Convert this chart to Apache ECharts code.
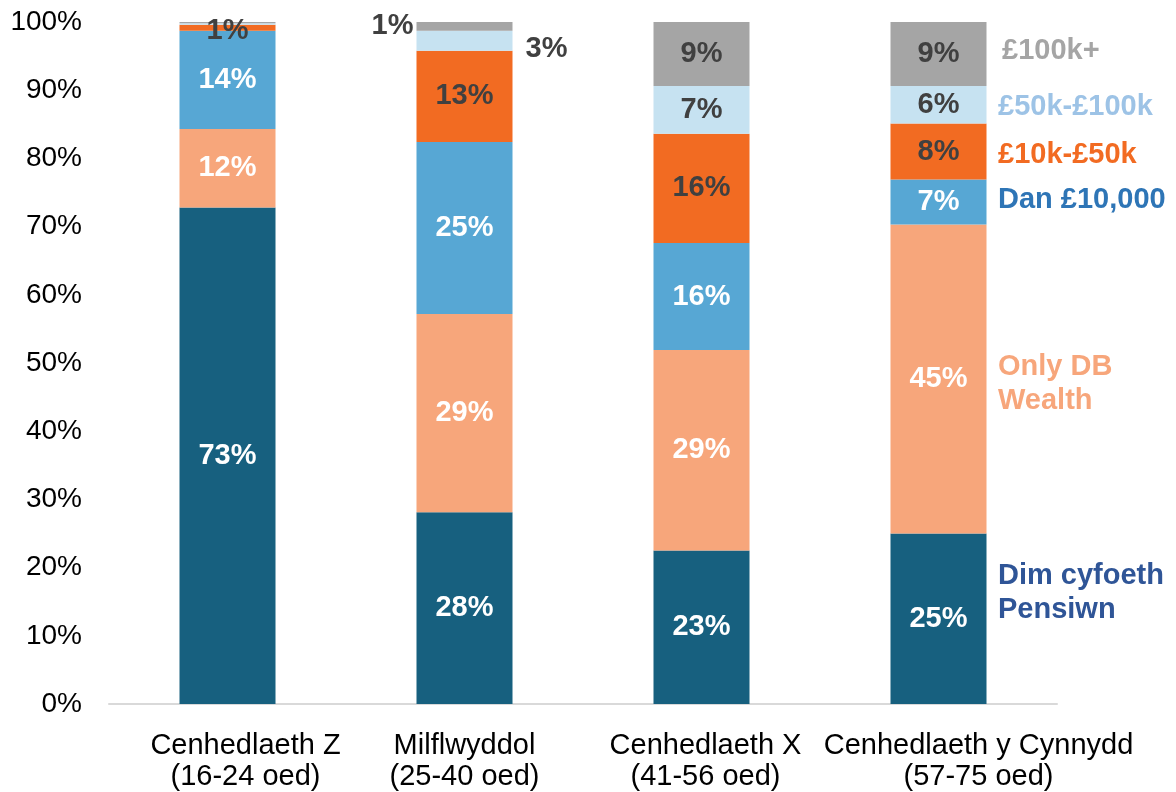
<!DOCTYPE html>
<html>
<head>
<meta charset="utf-8">
<script src="https://cdn.jsdelivr.net/npm/echarts@6/dist/echarts.min.js"></script>
<style>
  html, body { margin: 0; padding: 0; background: #fff; }
  #main { width: 1176px; height: 792px; }
</style>
</head>
<body>
<div id="main"></div>
<script>
// categories (x axis)
var categories = [
  'Cenhedlaeth Z\n(16-24 oed)',
  'Milflwyddol\n(25-40 oed)',
  'Cenhedlaeth X\n(41-56 oed)',
  'Cenhedlaeth y Cynnydd\n(57-75 oed)'
];

// series names, bottom to top
var seriesNames = ['Dim cyfoeth\nPensiwn', 'Only DB\nWealth', 'Dan £10,000', '£10k-£50k', '£50k-£100k', '£100k+'];

// values (% of each generation)
var noPension = [72.8, 28.1, 22.5, 25.0];
var onlyDB    = [11.5, 29.1, 29.4, 45.3];
var under10k  = [14.4, 25.2, 15.7, 6.6];
var k10to50   = [0.9, 13.4, 16.0, 8.2];
var k50to100  = [0.2, 2.9, 7.0, 5.5];
var k100plus  = [0.2, 1.3, 9.4, 9.4];

var yTicks = [0, 10, 20, 30, 40, 50, 60, 70, 80, 90, 100];

var allData = [noPension, onlyDB, under10k, k10to50, k50to100, k100plus];
var barColors = ['#17607f', '#f7a67b', '#57a7d4', '#f26b22', '#c6e2f1', '#a5a5a5'];
var labelColors = ['#fff', '#fff', '#fff', '#404040', '#404040', '#404040'];
var legendColors = ['#2f5597', '#f7a67b', '#2e75b6', '#f26b22', '#9dc3e6', '#a5a5a5'];
var FONT = '"Liberation Sans", Arial, sans-serif';

var myChart = echarts.init(document.getElementById('main'));

function makeItem(si, ci, v) {
  var item = { value: v };
  // small segments that are placed outside or hidden
  if (si >= 4 && ci === 0) {
    item.label = { show: false };
  }
  if (si === 3 && ci === 0) {
    item.label = { offset: [0, 3] };
  }
  if (si === 5 && ci === 1) {
    item.label = { position: 'left', distance: 3, offset: [0, 0] };
  }
  if (si === 4 && ci === 1) {
    item.label = { position: 'right', distance: 13, offset: [0, 8] };
  }
  return item;
}

var series = [];
for (var s = 0; s < allData.length; s++) {
  var items = [];
  for (var c = 0; c < allData[s].length; c++) {
    items.push(makeItem(s, c, allData[s][c]));
  }
  series.push({
    name: seriesNames[s],
    type: 'bar',
    stack: 'total',
    barWidth: 96,
    data: items,
    itemStyle: { color: barColors[s] },
    label: {
      show: true,
      position: 'inside',
      color: labelColors[s],
      fontFamily: FONT,
      fontWeight: 'bold',
      fontSize: 29,
      formatter: function(p) { return Math.round(p.value) + '%'; }
    },
    emphasis: { disabled: true }
  });
}

// category labels sit a little off-centre in the original (padding-left shifts them right)
var labelShift = [36, 0, 8, 80];
var xData = categories.map(function(name, i) {
  return { value: name, textStyle: { padding: [0, 0, 0, labelShift[i]] } };
});

var option = {
  animation: false,
  backgroundColor: '#fff',
  grid: { left: 109, right: 119, top: 22, bottom: 87 },
  xAxis: {
    type: 'category',
    data: xData,
    axisLine: { lineStyle: { color: '#d9d9d9', width: 2 } },
    axisTick: { show: false },
    axisLabel: {
      color: '#000',
      fontFamily: FONT,
      fontSize: 29,
      lineHeight: 31,
      margin: 26,
      interval: 0,
      hideOverlap: false
    }
  },
  yAxis: {
    type: 'value',
    min: yTicks[0],
    max: yTicks[yTicks.length - 1],
    interval: 10,
    splitLine: { show: false },
    axisLine: { show: false },
    axisTick: { show: false },
    axisLabel: {
      color: '#000',
      fontFamily: FONT,
      fontSize: 28,
      margin: 27,
      formatter: '{value}%'
    }
  },
  series: series
};

myChart.setOption(option);

// series names written to the right of the last bar, near each segment's middle
var last = categories.length - 1;
var cum = 0;
var texts = [];
var nudge = [-26, 5, -2, 3, 2, -3];
for (var i = 0; i < allData.length; i++) {
  var mid = cum + allData[i][last] / 2;
  cum += allData[i][last];
  var pt = myChart.convertToPixel({ seriesIndex: 0 }, [last, mid]);
  texts.push({
    type: 'text',
    x: 998 + (i === 5 ? 4 : 0),
    y: pt[1] + nudge[i],
    style: {
      text: seriesNames[i],
      fill: legendColors[i],
      font: 'bold 29px ' + FONT,
      lineHeight: 34,
      verticalAlign: 'middle'
    }
  });
}
myChart.setOption({ graphic: texts });
</script>
</body>
</html>
